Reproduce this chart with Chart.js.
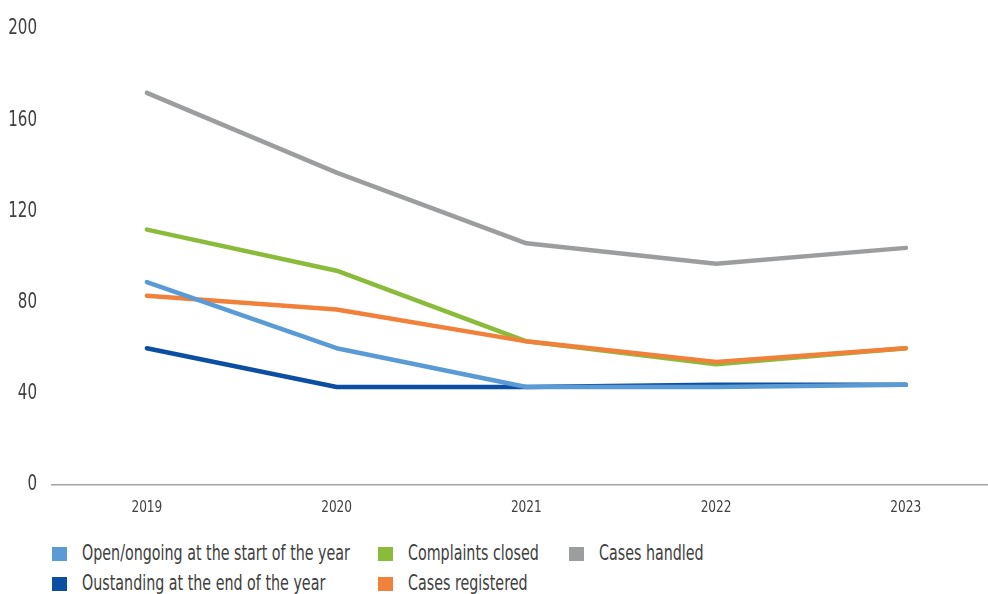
<!DOCTYPE html>
<html>
<head>
<meta charset="utf-8">
<script src="https://cdn.jsdelivr.net/npm/chart.js@4/dist/chart.umd.min.js"></script>
<style>
  html, body { margin: 0; padding: 0; background: #fff; overflow: hidden; }
  body { width: 988px; height: 594px; position: relative;
         font-family: 'DejaVu Sans', sans-serif; color: #404040; }
  #wrap { position: absolute; left: 0; top: 0; width: 988px; height: 530px; }
  #legend { position: absolute; left: 52px; top: 543px; display: grid;
            grid-template-columns: 326px 191px auto; row-gap: 9px; }
  .item { display: flex; align-items: center; font-size: 21px; line-height: 21px; white-space: nowrap; }
  .box { width: 15px; height: 14px; margin-right: 15px; flex: none; }
  .txt { display: inline-block; transform: scaleX(0.68); transform-origin: left center; }
</style>
</head>
<body>
<div id="wrap"><canvas id="chartLine"></canvas></div>
<div id="legend"></div>
<script>
// yearly complaint figures
const years = ["2019", "2020", "2021", "2022", "2023"];
const openStart = [89, 60, 43, 43, 44];
const outstandingEnd = [60, 43, 43, 44, 44];
const closedCount = [112, 94, 63, 53, 60];
const registeredCount = [83, 77, 63, 54, 60];
const handledCount = [172, 137, 106, 97, 104];
const yTicks = [0, 40, 80, 120, 160, 200];

const fontFamily = "'DejaVu Sans', sans-serif";
const squeeze = 0.72; // horizontal squeeze for a condensed look

// legend order (row by row)
const series = [
  { label: "Open/ongoing at the start of the year", color: "#5b9bd5", data: openStart, order: 1 },
  { label: "Complaints closed", color: "#8bbb3b", data: closedCount, order: 4 },
  { label: "Cases handled", color: "#9b9d9e", data: handledCount, order: 0 },
  { label: "Oustanding at the end of the year", color: "#0b4ea2", data: outstandingEnd, order: 2 },
  { label: "Cases registered", color: "#f0803a", data: registeredCount, order: 3 },
];

const toPoints = (vals) => years.map((y, i) => ({ x: Number(y), y: vals[i] }));

// tick labels drawn narrow, placed by the scales
const narrowTicks = {
  id: "narrowTicks",
  afterDraw: (chart) => {
    const ctx = chart.ctx;
    const area = chart.chartArea;
    const xs = chart.scales.x, ys = chart.scales.y;
    ctx.save();
    ctx.fillStyle = "#404040";
    ctx.textBaseline = "middle";

    ctx.font = `21px ${fontFamily}`;
    ctx.textAlign = "right";
    ys.ticks.forEach(t => {
      const py = ys.getPixelForValue(t.value);
      ctx.save();
      ctx.translate(area.left - 15, py);
      ctx.scale(squeeze, 1);
      ctx.fillText(String(t.value), 0, 0);
      ctx.restore();
    });

    ctx.font = `16px ${fontFamily}`;
    ctx.textAlign = "center";
    xs.ticks.forEach(t => {
      const px = xs.getPixelForValue(t.value);
      ctx.save();
      ctx.translate(px, area.bottom + 23);
      ctx.scale(squeeze + 0.04, 1);
      ctx.fillText(String(t.value), 0, 0);
      ctx.restore();
    });
    ctx.restore();
  },
};

const dataLine = {
  datasets: series.map(s => ({
    label: s.label,
    data: toPoints(s.data),
    borderColor: s.color,
    backgroundColor: s.color,
    borderWidth: 4.5,
    borderCapStyle: "round",
    borderJoinStyle: "round",
    pointRadius: 0,
    tension: 0,
    order: s.order,
  })),
};

const configLine = {
  type: "line",
  data: dataLine,
  plugins: [narrowTicks],
  options: {
    responsive: true,
    maintainAspectRatio: false,
    animation: false,
    layout: { padding: { top: 29, right: 0, left: 0, bottom: 0 } },
    plugins: { legend: { display: false }, tooltip: { enabled: false } },
    scales: {
      x: {
        type: "linear",
        min: 2018.5,
        max: 2023.433,
        afterBuildTicks: (axis) => { axis.ticks = years.map(v => ({ value: Number(v) })); },
        afterFit: (axis) => { axis.height = 45; },
        grid: { display: false, drawTicks: false },
        border: { display: true, color: "#a3a3a3", width: 1.5 },
        ticks: { display: false },
      },
      y: {
        min: 0,
        max: 200,
        afterBuildTicks: (axis) => { axis.ticks = yTicks.map(v => ({ value: v })); },
        afterFit: (axis) => { axis.width = 52; },
        grid: { display: false, drawTicks: false },
        border: { display: false },
        ticks: { display: false },
      },
    },
  },
};

var chartLine = new Chart(document.getElementById("chartLine"), configLine);

// html legend in a 3-column grid
const legendEl = document.getElementById("legend");
series.forEach(s => {
  const item = document.createElement("div");
  item.className = "item";
  item.innerHTML = `<span class="box" style="background:${s.color}"></span><span class="txt">${s.label}</span>`;
  legendEl.appendChild(item);
});
</script>
</body>
</html>
